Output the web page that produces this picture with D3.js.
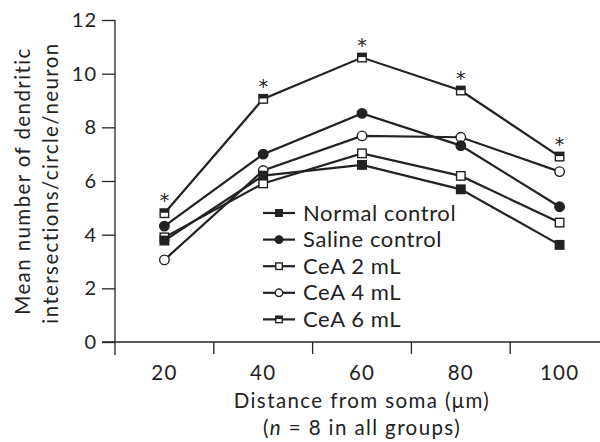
<!DOCTYPE html>
<html>
<head>
<meta charset="utf-8">
<script src="https://cdn.jsdelivr.net/npm/d3@7"></script>
<style>
  body { margin: 0; background: #fff; }
  text { font-family: Lato, "Open Sans", sans-serif; fill: #222; }
</style>
</head>
<body>
<div id="chart"></div>
<script>
// data
var distances = [20, 40, 60, 80, 100];
var yTicks = [0, 2, 4, 6, 8, 10, 12];
var seriesNames = ["Normal control", "Saline control", "CeA 2 mL", "CeA 4 mL", "CeA 6 mL"];
var seriesMarkers = ["squareFilled", "circleFilled", "squareOpen", "circleOpen", "squareHalf"];
var normalControl = [3.78, 6.2, 6.6, 5.69, 3.62];
var salineControl = [4.32, 7.0, 8.52, 7.32, 5.04];
var cea2 = [3.9, 5.91, 7.03, 6.19, 4.45];
var cea4 = [3.06, 6.39, 7.68, 7.63, 6.35];
var cea6 = [4.8, 9.06, 10.6, 9.37, 6.91];
var significant = [20, 40, 60, 80, 100];

var seriesValues = [normalControl, salineControl, cea2, cea4, cea6];

var width = 600, height = 442;
var margin = { top: 20, left: 115 };
var ink = "#222";

var svg = d3.select("#chart").append("svg")
    .attr("width", width)
    .attr("height", height);

var x = d3.scaleBand()
    .domain(distances)
    .range([margin.left, margin.left + 5 * 98.8]);

var y = d3.scaleLinear()
    .domain([0, 12])
    .range([342, margin.top]);

// y axis
var yAxis = svg.append("g")
    .attr("transform", "translate(" + margin.left + ",0)")
    .call(d3.axisLeft(y).tickValues(yTicks).tickSize(13).tickPadding(6));
yAxis.select(".domain").remove();
yAxis.selectAll("line").attr("stroke", ink).attr("stroke-width", 1.3);
yAxis.selectAll("text").attr("font-size", 20)
    .attr("fill", ink).attr("letter-spacing", 1).attr("dx", 1);

svg.append("line")
    .attr("x1", margin.left).attr("x2", margin.left)
    .attr("y1", y(12)).attr("y2", y(0) + 13)
    .attr("stroke", ink).attr("stroke-width", 1.3);

// x axis: labels centred in bands, ticks on band edges
var xAxis = svg.append("g")
    .attr("transform", "translate(0," + y(0) + ")")
    .call(d3.axisBottom(x).tickSize(0).tickPadding(23));
xAxis.select(".domain").remove();
xAxis.selectAll("text").attr("font-size", 20.5)
    .attr("fill", ink).attr("letter-spacing", 1.2);

svg.append("line")
    .attr("x1", margin.left - 13).attr("x2", width)
    .attr("y1", y(0)).attr("y2", y(0))
    .attr("stroke", ink).attr("stroke-width", 1.3);

svg.selectAll(".xtick")
    .data(distances.slice(1))
    .enter().append("line")
    .attr("x1", function (d) { return x(d); })
    .attr("x2", function (d) { return x(d); })
    .attr("y1", y(0)).attr("y2", y(0) + 12)
    .attr("stroke", ink).attr("stroke-width", 1.3);

// axis titles
svg.append("text")
    .attr("text-anchor", "middle")
    .attr("transform", "translate(30," + 181 + ") rotate(-90)")
    .attr("font-size", 20.5)
    .attr("letter-spacing", 1.4)
    .text("Mean number of dendritic");
svg.append("text")
    .attr("text-anchor", "middle")
    .attr("transform", "translate(58," + 183 + ") rotate(-90)")
    .attr("font-size", 20.5)
    .attr("letter-spacing", 1.4)
    .text("intersections/circle/neuron");

var cx = margin.left + 2.5 * 98.8;
svg.append("text")
    .attr("text-anchor", "middle")
    .attr("x", cx).attr("y", 408)
    .attr("font-size", 20.5)
    .attr("letter-spacing", 1.4)
    .text("Distance from soma (\u03bcm)");
var t2 = svg.append("text")
    .attr("text-anchor", "middle")
    .attr("x", cx).attr("y", 435)
    .attr("font-size", 20.5)
    .attr("letter-spacing", 1.4);
t2.append("tspan").text("(");
t2.append("tspan").attr("font-style", "italic").text("n");
t2.append("tspan").text(" = 8 in all groups)");

// marker drawing
function drawMarker(g, type, px, py, s) {
    if (type === "squareFilled" || type === "squareOpen" || type === "squareHalf") {
        g.append("rect")
            .attr("x", px - s / 2).attr("y", py - s / 2)
            .attr("width", s).attr("height", s)
            .attr("fill", type === "squareFilled" ? ink : "#fff")
            .attr("stroke", ink).attr("stroke-width", 1.4);
        if (type === "squareHalf") {
            g.append("rect")
                .attr("x", px - s / 2).attr("y", py - s / 2)
                .attr("width", s).attr("height", s * 0.45)
                .attr("fill", ink);
        }
    } else {
        g.append("circle")
            .attr("cx", px).attr("cy", py).attr("r", s / 2 + 0.5)
            .attr("fill", type === "circleFilled" ? ink : "#fff")
            .attr("stroke", ink).attr("stroke-width", 1.4);
    }
}

var line = d3.line()
    .x(function (d, i) { return x(distances[i]) + x.bandwidth() / 2; })
    .y(function (d) { return y(d); });

// draw order so that normal control sits on top of CeA 2 at 20 um
var order = [2, 3, 1, 4, 0];
order.forEach(function (k) {
    var g = svg.append("g");
    g.append("path")
        .datum(seriesValues[k])
        .attr("fill", "none")
        .attr("stroke", ink)
        .attr("stroke-width", 2.2)
        .attr("d", line);
    seriesValues[k].forEach(function (v, i) {
        drawMarker(g, seriesMarkers[k], x(distances[i]) + x.bandwidth() / 2, y(v), 8.5);
    });
});

// significance asterisks above CeA 6 mL
svg.selectAll(".star")
    .data(significant)
    .enter().append("text")
    .attr("text-anchor", "middle")
    .style("font-family", "'DejaVu Sans'")
    .style("font-size", "19px")
    .attr("x", function (d) { return x(d) + x.bandwidth() / 2; })
    .attr("y", function (d) { return y(cea6[distances.indexOf(d)]) - 6; })
    .text("*");

// legend
var legend = svg.append("g");
seriesNames.forEach(function (name, k) {
    var ly = 213 + k * 26.6;
    legend.append("line")
        .attr("x1", 263).attr("x2", 295)
        .attr("y1", ly).attr("y2", ly)
        .attr("stroke", ink).attr("stroke-width", 2.2);
    drawMarker(legend, seriesMarkers[k], 279, ly, 6.5);
    legend.append("text")
        .attr("x", 303).attr("y", ly + 7.5)
        .attr("font-size", 22)
        .attr("letter-spacing", 0.6)
        .text(name);
});
</script>
</body>
</html>
